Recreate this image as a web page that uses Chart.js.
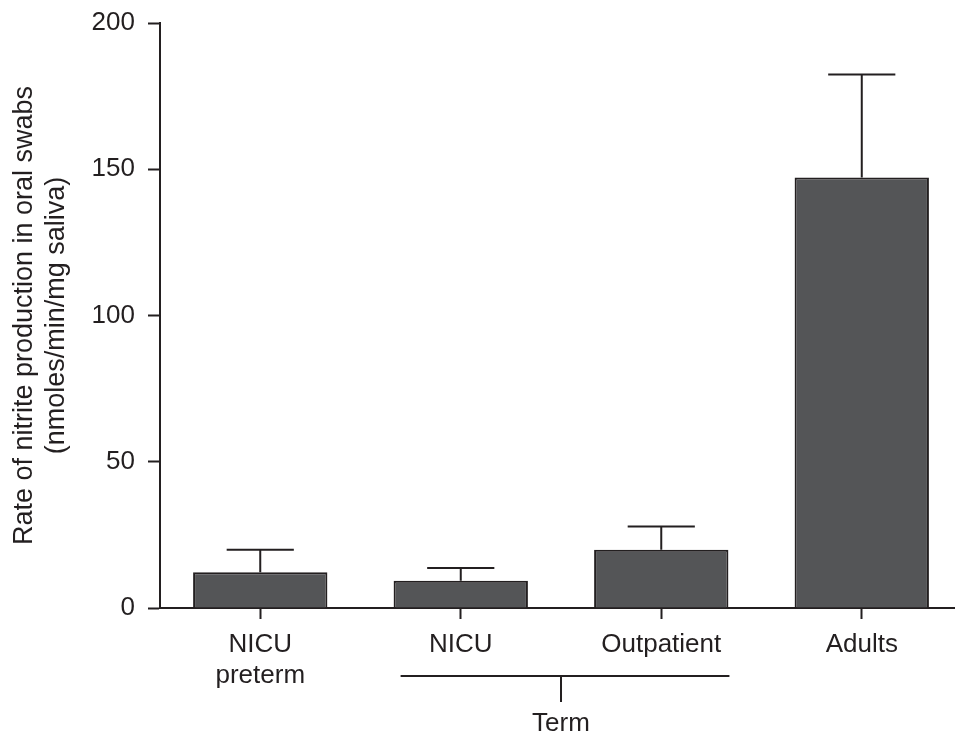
<!DOCTYPE html>
<html>
<head>
<meta charset="utf-8">
<script src="https://cdn.jsdelivr.net/npm/chart.js@4.4.1/dist/chart.umd.min.js"></script>
<style>
  html, body { margin: 0; padding: 0; background: #fff; }
  #wrap { width: 955px; height: 737px; position: relative; }
</style>
</head>
<body>
<div id="wrap"><canvas id="nitriteChart"></canvas></div>
<script>
// values
const categories = [["NICU", "preterm"], "NICU", "Outpatient", "Adults"];
const meanRates = [12.2, 9.3, 19.9, 147.2];
const errorUp = [7.7, 4.4, 8.0, 35.2];
const yTicks = [0, 50, 100, 150, 200];
const groupLabel = "Term";
const groupMembers = [1, 2]; // NICU + Outpatient are the term groups

const ink = "#231f20";
const font = "'Liberation Sans', Arial, Helvetica, sans-serif";

// error bars, upward only, cap half the bar width
const errorBarPlugin = {
  id: "errorBars",
  afterDatasetsDraw(chart) {
    const ctx = chart.ctx;
    const y = chart.scales.y;
    const meta = chart.getDatasetMeta(0);
    ctx.save();
    ctx.strokeStyle = ink;
    ctx.lineWidth = 2;
    meta.data.forEach((bar, i) => {
      const top = y.getPixelForValue(meanRates[i] + errorUp[i]);
      const half = bar.width / 4;
      ctx.beginPath();
      ctx.moveTo(bar.x, bar.y);
      ctx.lineTo(bar.x, top);
      ctx.moveTo(bar.x - half, top);
      ctx.lineTo(bar.x + half, top);
      ctx.stroke();
    });
    ctx.restore();
  }
};

// bracket under NICU/Outpatient with "Term"
const groupBracketPlugin = {
  id: "groupBracket",
  afterDraw(chart) {
    const ctx = chart.ctx;
    const x = chart.scales.x;
    const bottom = chart.chartArea.bottom;
    const a = x.getPixelForValue(groupMembers[0]);
    const b = x.getPixelForValue(groupMembers[1]);
    const step = b - a;
    const left = a - 0.3 * step;
    const right = b + 0.34 * step;
    const mid = (a + b) / 2;
    const lineY = bottom + 68;
    ctx.save();
    ctx.strokeStyle = ink;
    ctx.lineWidth = 2;
    ctx.beginPath();
    ctx.moveTo(left, lineY);
    ctx.lineTo(right, lineY);
    ctx.moveTo(mid, lineY);
    ctx.lineTo(mid, lineY + 26);
    ctx.stroke();
    ctx.fillStyle = ink;
    ctx.font = "26px " + font;
    ctx.textAlign = "center";
    ctx.textBaseline = "alphabetic";
    ctx.fillText(groupLabel, mid, bottom + 123);
    ctx.restore();
  }
};

const ctx = document.getElementById("nitriteChart").getContext("2d");
new Chart(ctx, {
  type: "bar",
  data: {
    datasets: [{
      data: meanRates.map((v, i) => ({ x: i, y: v })),
      backgroundColor: "#545557",
      borderColor: ink,
      borderWidth: 2,
      barPercentage: 0.67,
      categoryPercentage: 1
    }]
  },
  options: {
    responsive: true,
    maintainAspectRatio: false,
    animation: false,
    layout: { padding: { top: 23, left: 0, right: 0, bottom: 0 } },
    plugins: {
      legend: { display: false },
      tooltip: { enabled: false }
    },
    scales: {
      x: {
        type: "linear",
        min: -0.5,
        max: 3.465,
        offset: false,
        afterBuildTicks: scale => {
          scale.ticks = categories.map((_, i) => ({ value: i }));
        },
        afterFit: scale => { scale.height = 129; },
        ticks: {
          callback: value => categories[value],
          font: { family: font, size: 26 },
          color: ink,
          padding: 10,
          maxRotation: 0,
          autoSkip: false
        },
        grid: {
          offset: false,
          drawOnChartArea: false,
          drawTicks: true,
          tickLength: 11,
          tickWidth: 2,
          tickColor: ink
        },
        border: { display: true, color: ink, width: 2 }
      },
      y: {
        min: 0,
        max: 200,
        afterBuildTicks: scale => {
          scale.ticks = yTicks.map(v => ({ value: v }));
        },
        afterFit: scale => {
          scale.width = 160;
          scale.paddingTop = 0;
          scale.paddingBottom = 0;
        },
        ticks: {
          font: { family: font, size: 26 },
          color: ink,
          padding: 13
        },
        grid: {
          drawOnChartArea: false,
          drawTicks: true,
          tickLength: 12,
          tickWidth: 2,
          tickColor: ink
        },
        border: { display: true, color: ink, width: 2 },
        title: {
          display: true,
          text: ["Rate of nitrite production in oral swabs", "(nmoles/min/mg saliva)"],
          font: { family: font, size: 27 },
          color: ink,
          padding: { top: 8, bottom: 0 }
        }
      }
    }
  },
  plugins: [errorBarPlugin, groupBracketPlugin]
});
</script>
</body>
</html>
